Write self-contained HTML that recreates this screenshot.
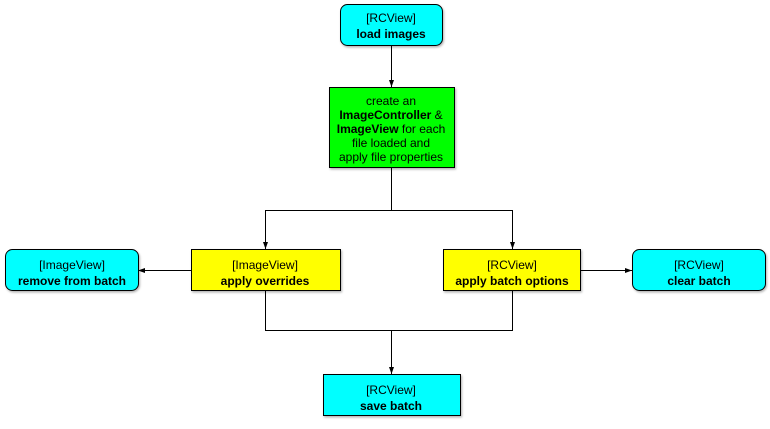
<!DOCTYPE html>
<html><head><style>
body{margin:0;background:#fff;width:770px;height:424px;overflow:hidden}
svg text{font-family:"Liberation Sans",Arial,sans-serif;font-size:12px;text-anchor:middle;fill:#000}
.b{font-weight:bold}
</style></head><body>
<svg width="770" height="424" viewBox="0 0 770 424">
<defs>
<marker id="a" markerWidth="8" markerHeight="8" refX="7" refY="4" orient="auto" markerUnits="userSpaceOnUse">
<path d="M0,1.5 L7,4 L0,6.5 Z" fill="#000"/></marker>
<filter id="s" x="-10%" y="-10%" width="130%" height="140%"><feDropShadow dx="1" dy="1.5" stdDeviation="1" flood-color="#000" flood-opacity="0.3"/></filter>
</defs>
<g stroke="#000" stroke-width="1" fill="none">
<path d="M391.5 45 V87" marker-end="url(#a)"/>
<path d="M391.5 167 V210.5 H265.5 V249" marker-end="url(#a)"/>
<path d="M391.5 210.5 H512.5 V249" marker-end="url(#a)"/>
<path d="M265.5 290 V330.5 H512.5 V290"/>
<path d="M391.5 330.5 V374" marker-end="url(#a)"/>
<path d="M191 270.5 H138" marker-end="url(#a)"/>
<path d="M580 270.5 H632" marker-end="url(#a)"/>
</g>
<g stroke="#000" stroke-width="1" filter="url(#s)">
<rect x="340.5" y="4.5" width="102" height="41" rx="7" fill="#00ffff"/>
<rect x="329.5" y="87.5" width="125" height="80" fill="#00ff00"/>
<rect x="191.5" y="249.5" width="149" height="41" fill="#ffff00"/>
<rect x="443.5" y="249.5" width="137" height="41" fill="#ffff00"/>
<rect x="5.5" y="249.5" width="133" height="41" rx="7" fill="#00ffff"/>
<rect x="632.5" y="249.5" width="133" height="41" rx="7" fill="#00ffff"/>
<rect x="323.5" y="374.5" width="137" height="41" fill="#00ffff"/>
</g>
<text x="391" y="22">[RCView]</text><text x="391" y="38" class="b">load images</text>
<text x="391" y="105">create an</text>
<text x="391" y="119"><tspan class="b">ImageController</tspan> &amp;</text>
<text x="391" y="133"><tspan class="b">ImageView</tspan> for each</text>
<text x="391" y="147">file loaded and</text>
<text x="391" y="161">apply file properties</text>
<text x="265" y="269">[ImageView]</text><text x="265" y="285" class="b">apply overrides</text>
<text x="512" y="269">[RCView]</text><text x="512" y="285" class="b">apply batch options</text>
<text x="72" y="269">[ImageView]</text><text x="72" y="285" class="b">remove from batch</text>
<text x="699" y="269">[RCView]</text><text x="699" y="285" class="b">clear batch</text>
<text x="391" y="394">[RCView]</text><text x="391" y="410" class="b">save batch</text>
</svg>
</body></html>
